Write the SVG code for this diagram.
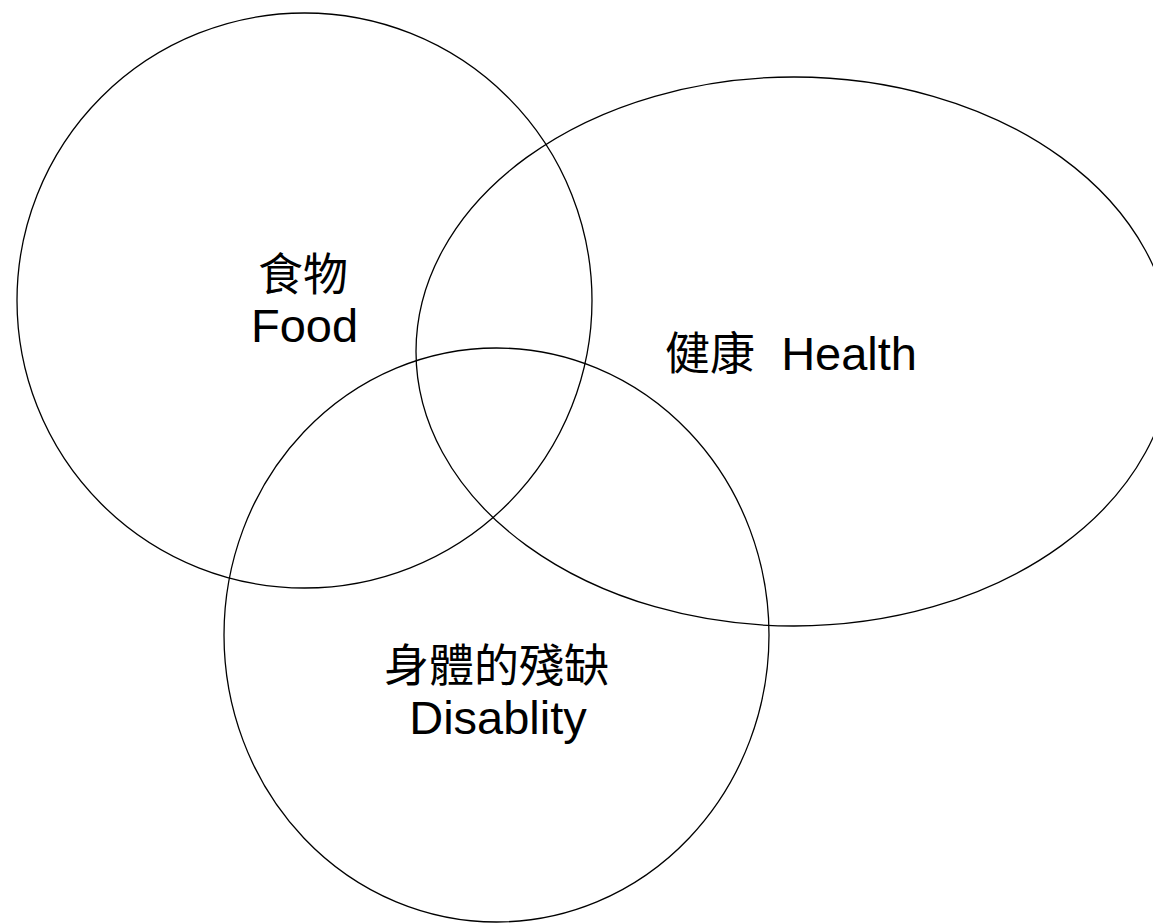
<svg xmlns="http://www.w3.org/2000/svg" width="1153" height="923" viewBox="0 0 1153 923">
<style>
.sh{fill:none;stroke:#000;stroke-width:1.3}
.t{font-family:"Liberation Sans","Noto Sans CJK TC",sans-serif;font-size:47px;fill:#000}
.c{font-family:"Noto Sans CJK TC","Noto Sans CJK SC",sans-serif;font-size:45px}
</style>
<rect width="1153" height="923" fill="#fff"/>
<g id="food">
<ellipse class="sh" cx="304.5" cy="300.5" rx="287.5" ry="287.5"/>
<text class="t c" x="303" y="291" text-anchor="middle">食物</text>
<text class="t" x="304.5" y="342" text-anchor="middle">Food</text>
</g>
<g id="health">
<ellipse class="sh" cx="794" cy="351.5" rx="378" ry="274.5"/>
<text class="t" x="665" y="370" xml:space="preserve"><tspan class="c">健康</tspan>  Health</text>
</g>
<g id="disability">
<ellipse class="sh" cx="496.5" cy="635" rx="272.5" ry="287"/>
<text class="t c" x="496.5" y="682" text-anchor="middle">身體的殘缺</text>
<text class="t" x="498" y="734" text-anchor="middle">Disablity</text>
</g>
<g id="connectors"/>
</svg>
